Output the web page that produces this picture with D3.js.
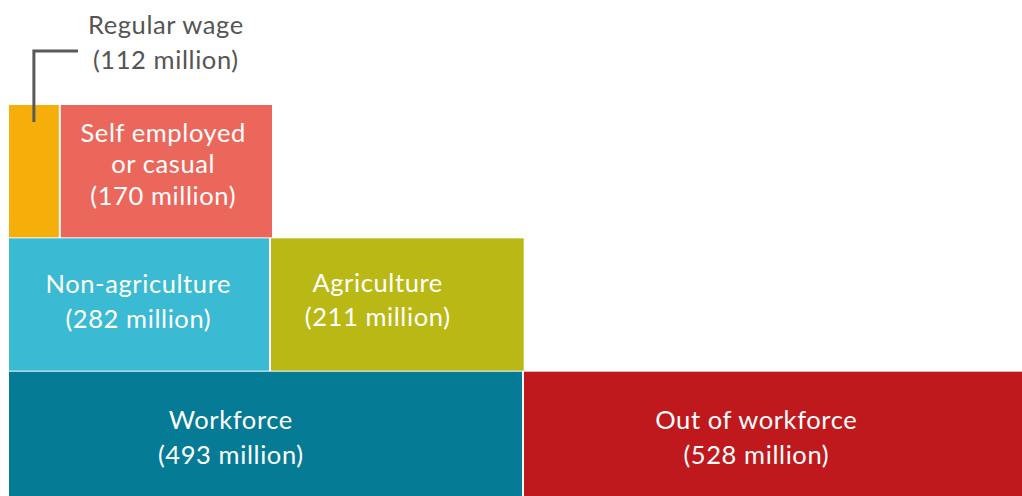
<!DOCTYPE html>
<html><head><meta charset="utf-8">
<script src="https://cdn.jsdelivr.net/npm/d3@7"></script>
<style>html,body{margin:0;padding:0;background:#fff;}svg{display:block;}</style>
</head><body>
<svg id="chart" width="1022" height="496"></svg>
<script>
// ---- data ----
const categories = ["Regular wage", "Self employed or casual", "Non-agriculture", "Agriculture", "Workforce", "Out of workforce"];
const values = [112, 170, 282, 211, 493, 528];
const rowOf = ["top", "top", "middle", "middle", "bottom", "bottom"];
const labelLines = [["Regular wage"], ["Self employed", "or casual"], ["Non-agriculture"], ["Agriculture"], ["Workforce"], ["Out of workforce"]];
const rowNames = ["top", "middle", "bottom"];

// ---- style / layout ----
const colors = ["#F6AE0B", "#EC675B", "#3BBAD3", "#BAB814", "#057B95", "#C0191D"];
const rowPixelBreaks = { top: [9, 59.8, 272], middle: [9, 270, 523.7], bottom: [9, 523, 1022] };
const labelOffset = [[0, 0], [-3.5, 2.3], [-1, 5.7], [-20, 4.5], [-35, 8.5], [-17, 8.5]];
const lineGap = [35, 31.3, 34.7, 34.7, 35, 35];
const FONT = "Lato, 'Open Sans', sans-serif";
const FS = 25.5;
const LS = 0.6;
const GAP = 2;

const svg = d3.select("#chart");

const y = d3.scaleBand().domain(rowNames).range([105, 504]).paddingInner(1 / 133).paddingOuter(0);

// per-row piecewise x scales from cumulative values
const rowScales = {};
const nodes = categories.map((c, i) => ({ name: c, value: values[i], row: rowOf[i], i }));
rowNames.forEach(r => {
  const items = nodes.filter(n => n.row === r);
  const cum = [0];
  items.forEach(n => { n.start = cum[cum.length - 1]; cum.push(n.start + n.value); n.end = n.start + n.value; });
  rowScales[r] = d3.scaleLinear().domain(cum).range(rowPixelBreaks[r]);
  items.forEach(n => { n.total = cum[cum.length - 1]; });
});

nodes.forEach(n => {
  const x = rowScales[n.row];
  n.x0 = x(n.start) + (n.start > 0 ? GAP / 2 : 0);
  n.x1 = x(n.end) - (n.end < n.total ? GAP / 2 : 0);
  n.y0 = y(n.row);
  n.y1 = n.y0 + y.bandwidth();
});

svg.selectAll("rect.cell").data(nodes).join("rect")
  .attr("class", "cell")
  .attr("x", d => d.x0).attr("y", d => d.y0)
  .attr("width", d => d.x1 - d.x0).attr("height", d => d.y1 - d.y0)
  .attr("fill", d => colors[d.i]);

// inside labels (all except the first, which gets a callout)
const inside = nodes.filter(n => n.i !== 0);
inside.forEach(n => {
  const lines = labelLines[n.i].concat([`(${n.value} million)`]);
  const cx = (n.x0 + n.x1) / 2 + labelOffset[n.i][0] + LS / 2;
  const cy = (n.y0 + n.y1) / 2 + labelOffset[n.i][1];
  const L = lineGap[n.i];
  const t = svg.append("text")
    .attr("text-anchor", "middle")
    .attr("font-family", FONT).attr("font-size", FS)
    .attr("letter-spacing", LS)
    .attr("fill", "#ffffff");
  lines.forEach((ln, k) => {
    t.append("tspan").attr("x", cx).attr("y", cy + (k - (lines.length - 1) / 2) * L).text(ln);
  });
});

// callout for Regular wage
const rw = nodes[0];
const lx = (rw.x0 + rw.x1) / 2;
const lineTop = 51;
svg.append("path")
  .attr("d", `M${lx},${rw.y0 + 17}V${lineTop}H78`)
  .attr("fill", "none").attr("stroke", "#595959").attr("stroke-width", 3);
const ct = svg.append("text")
  .attr("text-anchor", "middle")
  .attr("font-family", FONT).attr("font-size", FS)
  .attr("letter-spacing", LS)
  .attr("fill", "#555555");
labelLines[0].concat([`(${rw.value} million)`]).forEach((ln, k) => {
  ct.append("tspan").attr("x", 165.8).attr("y", 34 + k * 35).text(ln);
});
</script>
</body></html>
